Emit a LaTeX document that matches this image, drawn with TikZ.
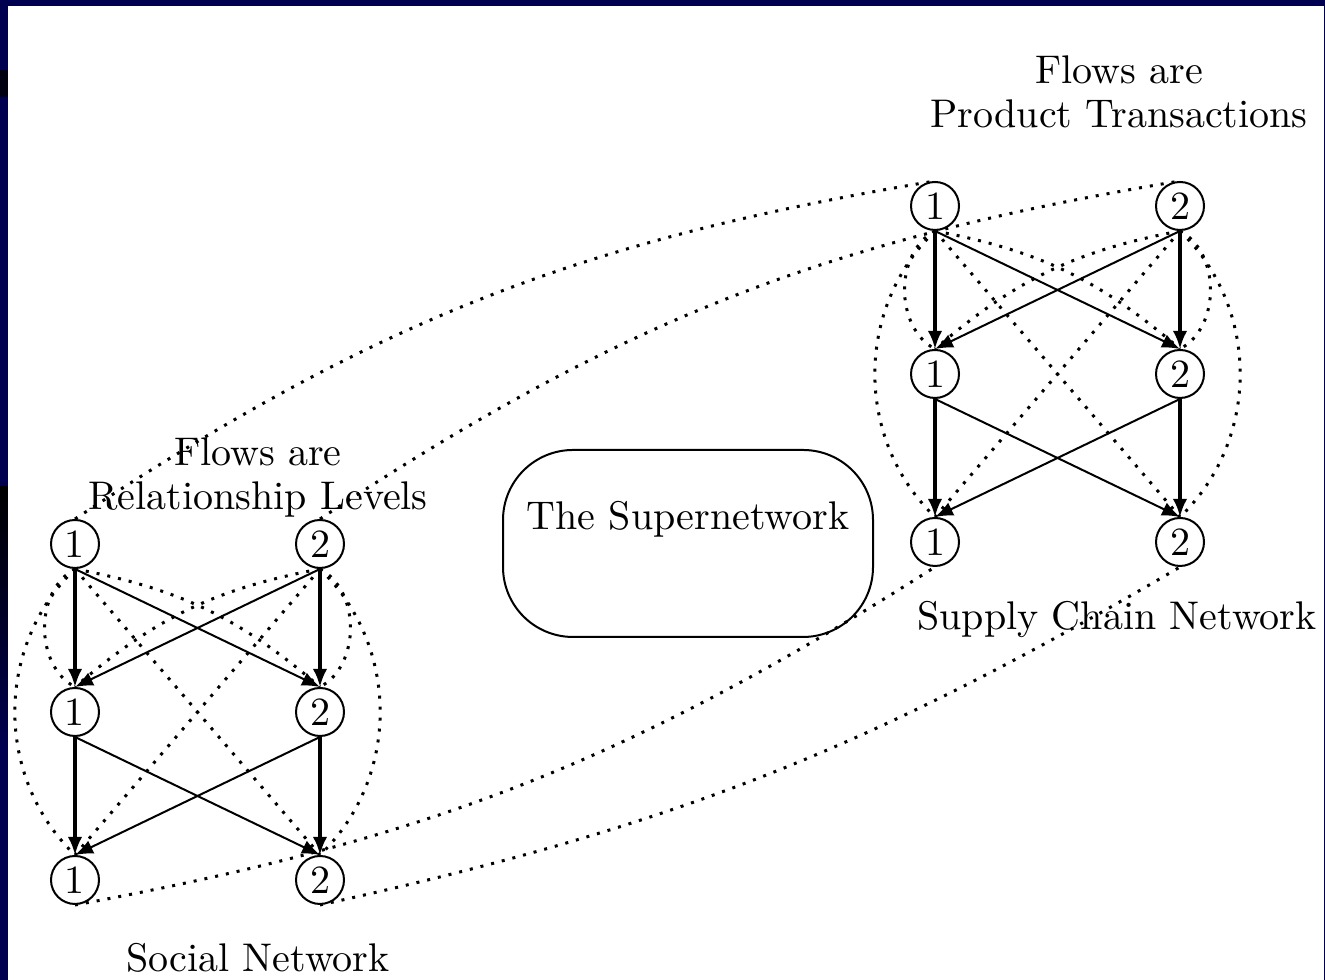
\documentclass[tikz,border=0pt]{standalone}
\usepackage{tikz}
\usetikzlibrary{arrows.meta}

\definecolor{slideblue}{RGB}{0,0,80}

\begin{document}
\begin{tikzpicture}[x=0.25pt,y=0.25pt,
    level node/.style={draw,circle,line width=0.5pt,minimum size=12pt,inner sep=0pt},
    flow/.style={line width=0.8pt,-{Latex[length=4.5pt,width=3.6pt]}},
    cross flow/.style={line width=0.5pt,-{Latex[length=4.5pt,width=3.6pt]}},
    link/.style={dotted,line width=0.75pt},
  ]

    \useasboundingbox (0,0) rectangle (1325,980);

    % slide frame
    \fill[slideblue] (0,0) rectangle (1325,980);
    \shade[top color=black,bottom color=slideblue] (0,493) rectangle (8,230);
    \fill[black!80!slideblue] (0,883) rectangle (8,910);
    \fill[white] (8,0) rectangle (1324,974);



    \begin{scope}[shift={(75,100)}]

      \node[level node] (s11) at (0,336) {1};
      \node[level node] (s12) at (245,336) {2};
      \node[level node] (s21) at (0,168) {1};
      \node[level node] (s22) at (245,168) {2};
      \node[level node] (s31) at (0,0) {1};
      \node[level node] (s32) at (245,0) {2};

    \end{scope}



    \begin{scope}[shift={(935,438)}]

      \node[level node] (c11) at (0,336) {1};
      \node[level node] (c12) at (245,336) {2};
      \node[level node] (c21) at (0,168) {1};
      \node[level node] (c22) at (245,168) {2};
      \node[level node] (c31) at (0,0) {1};
      \node[level node] (c32) at (245,0) {2};

    \end{scope}



    \foreach \net in {s,c} {
      \foreach \a/\b in {1/2,2/3} {
        \draw[flow] (\net\a1.south) -- (\net\b1.north);
        \draw[flow] (\net\a2.south) -- (\net\b2.north);
        \draw[cross flow] (\net\a1.south) -- (\net\b2.north);
        \draw[cross flow] (\net\a2.south) -- (\net\b1.north);
      }
      \draw[link] (\net11.south) to[bend right=62] (\net21.north);
      \draw[link] (\net12.south) to[bend left=62] (\net22.north);
      \draw[link] (\net11.south) to[bend right=46] (\net31.north);
      \draw[link] (\net12.south) to[bend left=46] (\net32.north);
      \draw[link] (\net11.south) to[bend left=15] (\net22.north);
      \draw[link] (\net12.south) to[bend right=15] (\net21.north);
      \draw[link] (\net11.south) -- (\net32.north);
      \draw[link] (\net12.south) -- (\net31.north);
    }

    % social <-> supply chain
    \draw[link] (s11.north) to[bend left=12] (c11.north);
    \draw[link] (s12.north) to[bend left=12] (c12.north);
    \draw[link] (s31.south) to[bend right=11] (c31.south);
    \draw[link] (s32.south) to[bend right=9] (c32.south);



    \node[align=center] (relation text) at (258,502)
    {Flows are\\[-1pt]
      Relationship Levels};

    \node[anchor=base] (social text) at (258,8) {Social Network};

    \node[align=center] (product text) at (1119,888)
    {Flows are\\[-1pt]
      Product Transactions};

    \node[anchor=base] (supply text) at (1117,350) {Supply Chain Network};

    \node[draw,line width=0.5pt,rounded corners=17.5pt,minimum width=92.5pt,
      text height=20pt,text depth=26.75pt,inner sep=0pt,anchor=base]
      (super) at (688,450) {The Supernetwork};

  \end{tikzpicture}
\end{document}
